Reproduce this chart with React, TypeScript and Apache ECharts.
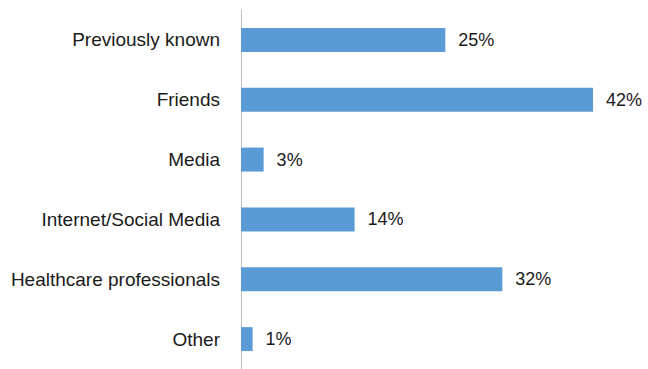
import React, { useEffect, useRef } from "react";
import * as echarts from "echarts";

const categories = [
  "Previously known",
  "Friends",
  "Media",
  "Internet/Social Media",
  "Healthcare professionals",
  "Other",
];
const values = [24.66, 42.49, 2.73, 13.71, 31.54, 1.4];
const valueLabels = ["25%", "42%", "3%", "14%", "32%", "1%"];

export default function App() {
  const ref = useRef<HTMLDivElement>(null);
  useEffect(() => {
    document.body.style.margin = "0";
    const chart = echarts.init(ref.current!, null, { renderer: "svg" });
    const font = "Liberation Sans";
    chart.setOption({
      animation: false,
      grid: { left: 241, top: 10, height: 360, width: 397.7, containLabel: false },
      xAxis: {
        type: "value",
        min: 0,
        max: 48,
        show: false,
      },
      yAxis: {
        type: "category",
        data: categories,
        inverse: true,
        axisLine: { show: true, lineStyle: { color: "#bfbfbf", width: 1 } },
        axisTick: { show: false },
        axisLabel: {
          margin: 21,
          color: "#1a1a1a",
          fontFamily: font,
          fontSize: 19,
        },
      },
      series: [
        {
          type: "bar",
          data: values,
          barWidth: 24,
          itemStyle: { color: "#5b9bd5" },
          label: {
            show: true,
            position: "right",
            distance: 13,
            color: "#1a1a1a",
            fontFamily: font,
            fontSize: 18,
            formatter: (p: any) => valueLabels[p.dataIndex],
          },
        },
      ],
    });
    return () => chart.dispose();
  }, []);
  return <div ref={ref} style={{ width: 648, height: 369 }} />;
}
